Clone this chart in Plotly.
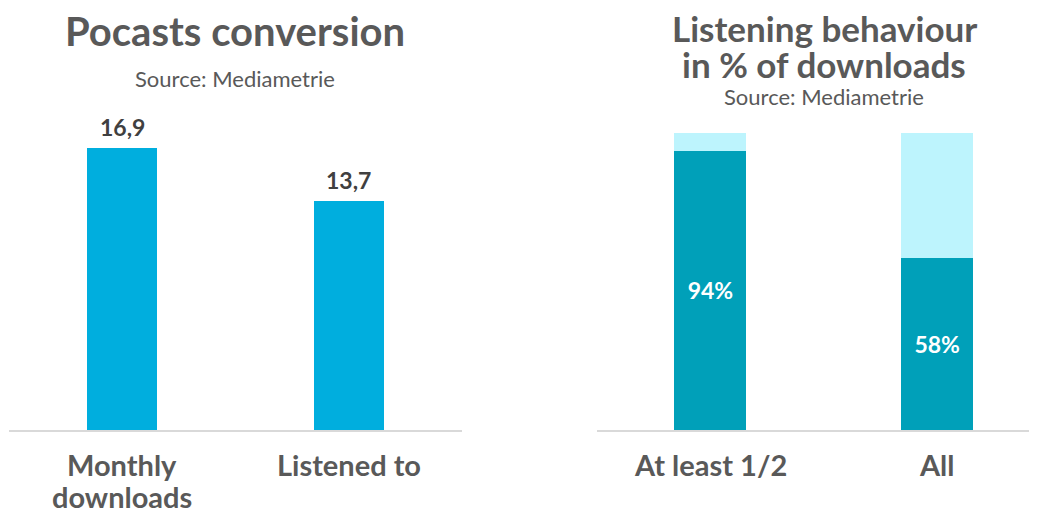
import plotly.graph_objects as go

W, H = 1037, 508
OFF = 8  # page body margin offset in the browser

# Left chart data
conv_categories = ["Monthly<br>downloads", "Listened to"]
conv_values = [16.9, 13.7]

# Right chart data
listen_categories = ["At least 1/2", "All"]
listen_pct = [94, 58]
listen_rest = [100 - v for v in listen_pct]

FONT = "Lato, 'Open Sans', sans-serif"
GREY = "#595959"
DARK = "#404040"


def px_x(x):
    return (x - OFF) / W


def px_y(y):
    return 1 - (y - OFF) / H


fig = go.Figure()

fig.add_trace(go.Bar(
    x=conv_categories, y=conv_values,
    marker=dict(color="#00AEDE", line=dict(width=0)),
    width=0.31,
    xaxis="x", yaxis="y", hoverinfo="skip", showlegend=False,
))

fig.add_trace(go.Bar(
    x=listen_categories, y=listen_pct,
    marker=dict(color="#00A0B9", line=dict(width=0)),
    width=0.318,
    text=[f"{v}%" for v in listen_pct],
    textposition="inside", insidetextanchor="middle",
    textfont=dict(family=FONT, size=23, color="white", weight="bold"),
    xaxis="x2", yaxis="y2", hoverinfo="skip", showlegend=False,
))
fig.add_trace(go.Bar(
    x=listen_categories, y=listen_rest,
    marker=dict(color="#BDF4FD", line=dict(width=0)),
    width=0.318,
    xaxis="x2", yaxis="y2", hoverinfo="skip", showlegend=False,
))

y_bottom = px_y(430)

axis_common = dict(
    showgrid=False, zeroline=False, ticks="", showticklabels=False,
    showline=True, linecolor="#D9D9D9", linewidth=2,
)

fig.update_layout(
    width=W, height=H,
    margin=dict(l=0, r=0, t=0, b=0),
    paper_bgcolor="white", plot_bgcolor="white",
    barmode="stack",
    xaxis=dict(domain=[px_x(9), px_x(462)], range=[-0.5, 1.5], anchor="y", **axis_common),
    yaxis=dict(domain=[y_bottom, px_y(129.6)], range=[0, 18], visible=False, anchor="x"),
    xaxis2=dict(domain=[px_x(597), px_x(1037)], range=[-0.5, 1.44], anchor="y2", **axis_common),
    yaxis2=dict(domain=[y_bottom, px_y(133)], range=[0, 100], visible=False, anchor="x2"),
)

# value labels above the left bars
for cat, v in zip(conv_categories, conv_values):
    fig.add_annotation(
        x=cat, y=v, xref="x", yref="y", yshift=21,
        text=f"<b>{v:.1f}".replace(".", ",") + "</b>",
        showarrow=False, xanchor="center", yanchor="middle",
        font=dict(family=FONT, size=23, color=DARK),
    )

# category labels under the axes (one annotation per line)
for xref, cats in (("x", conv_categories), ("x2", listen_categories)):
    for cat in cats:
        for i, line in enumerate(cat.split("<br>")):
            fig.add_annotation(
                x=cat, y=px_y(464 + 32 * i), xref=xref, yref="paper",
                text=f"<b>{line}</b>", showarrow=False,
                xanchor="center", yanchor="middle",
                font=dict(family=FONT, size=29, color=GREY),
            )

titles = [
    ("<b>Pocasts conversion</b>", 235, 31, 40),
    ("Source: Mediametrie", 235, 79, 22),
    ("<b>Listening behaviour</b>", 824, 28, 35),
    ("<b>in % of downloads</b>", 824, 64, 35),
    ("Source: Mediametrie", 824, 96, 22),
]
for text, x, y, size in titles:
    fig.add_annotation(
        text=text, x=px_x(x), y=px_y(y), xref="paper", yref="paper",
        xanchor="center", yanchor="middle", showarrow=False,
        font=dict(family=FONT, size=size, color=GREY),
    )

fig.write_html("out.html")
